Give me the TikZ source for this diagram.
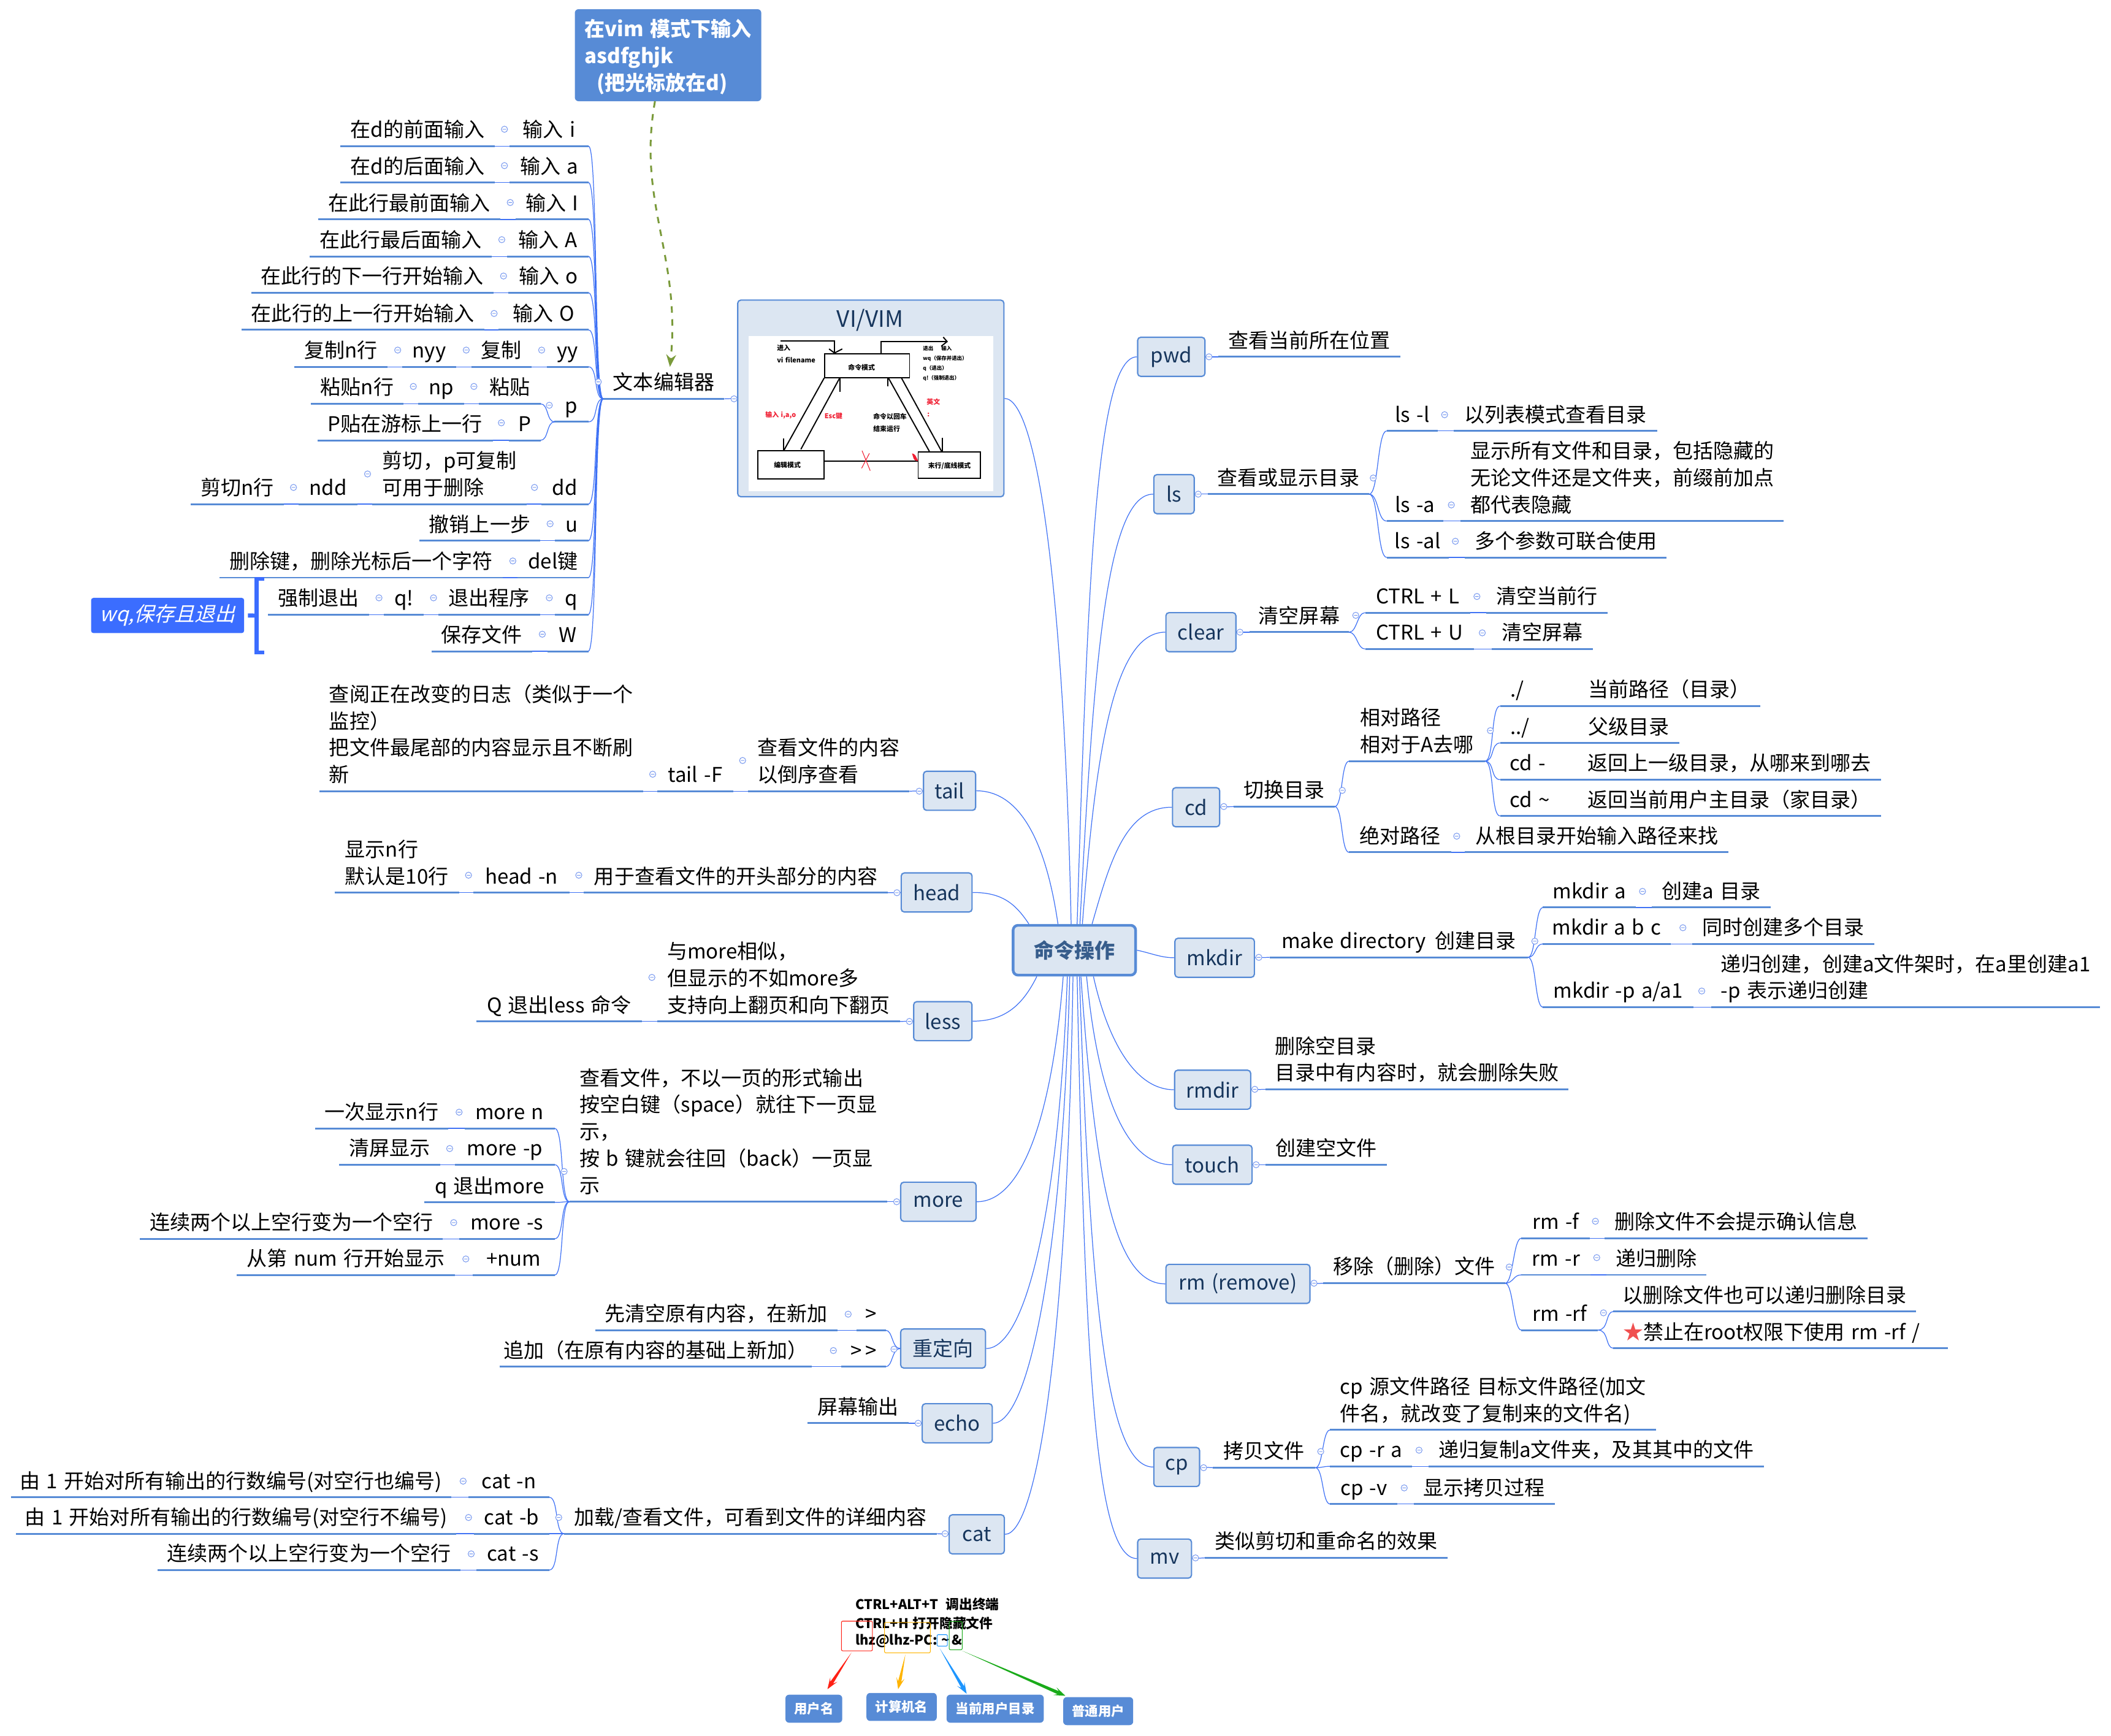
\documentclass[tikz,border=0pt]{standalone}
\usepackage{fontspec}
\setmainfont[WordSpace=1.4]{Noto Sans CJK SC}
\newfontfamily\slantfont[FakeSlant=0.25]{Noto Sans CJK SC}
\usetikzlibrary{calc,arrows.meta}

\newcommand{\gridu}{0.02196cm}
\definecolor{barblue}{HTML}{578BD6}
\definecolor{twigblue}{HTML}{3F72F5}
\definecolor{boxfill}{HTML}{DCE6F2}
\definecolor{boxtext}{HTML}{17365D}
\definecolor{hubtext}{HTML}{375D8C}
\definecolor{foldblue}{HTML}{7C9CF0}
\definecolor{noteblue}{HTML}{3B6DFF}
\definecolor{dashgreen}{HTML}{7A9A3A}
\definecolor{starred}{HTML}{F05050}
\definecolor{vimred}{HTML}{F01E32}
\definecolor{arrowred}{HTML}{FF2014}
\definecolor{arroworange}{HTML}{FFB400}
\definecolor{arrowblue}{HTML}{1E96FF}
\definecolor{arrowgreen}{HTML}{1AAB1A}

\tikzset{
	basefont/.style={font=\fontsize{9.4}{12.45}\selectfont},
	bar/.style={draw=barblue, line width=0.85pt},
	twig/.style={draw=twigblue, line width=0.35pt},
	limb/.style={draw=twigblue, line width=0.35pt},
	fold/.style={draw=foldblue, line width=0.3pt},
	leaftext/.style={basefont, anchor=south, inner sep=0pt, align=left},
	topic/.style={basefont, draw=barblue, fill=boxfill, text=boxtext, line width=0.6pt, rounded corners=0.05cm, minimum height=29*\gridu, inner sep=0pt},
	hub/.style={font=\fontsize{9.4}{12}\selectfont\bfseries, draw=barblue, fill=boxfill, text=hubtext, line width=1.25pt, rounded corners=0.08cm, minimum width=91*\gridu, minimum height=37*\gridu},
	tagbox/.style={font=\fontsize{6.1}{8}\selectfont\bfseries, fill=barblue, text=white, rounded corners=0.06cm, minimum height=20.8*\gridu, inner sep=0pt},
	shotline/.style={draw=black, line width=0.55pt},
	shottext/.style={anchor=west, inner sep=0pt, font=\fontsize{3.1}{4}\selectfont\bfseries},
	shotsmall/.style={anchor=west, inner sep=0pt, font=\fontsize{2.4}{3}\selectfont\bfseries},
	termtext/.style={anchor=west, inner sep=0pt, font=\fontsize{6.2}{8}\selectfont\bfseries},
	termbox/.style={line width=0.3pt, rounded corners=0.02cm},
}

% underlined entry with two end points name-l and name-r
\newcommand{\leaf}[5]{
	\coordinate (#1-l) at (#2,#4);
	\coordinate (#1-r) at (#3,#4);
	\draw[bar] (#1-l) -- (#1-r) node[midway,leaftext] (#1) {#5\strut};
}
\newcommand{\topicbox}[5]{\node[topic, minimum width=#4*\gridu] (#1) at (#2,#3) {#5};}
% tapered pointer
\newcommand{\taper}[3]{
	\fill[#1] (#2) -- ($(#3)!0.13cm!12:(#2)$) -- ($(#3)!0.2cm!20:(#2)$) -- (#3)
		-- ($(#3)!0.2cm!-20:(#2)$) -- ($(#3)!0.13cm!-12:(#2)$) -- cycle;
}

\begin{document}
\begin{tikzpicture}[x=\gridu, y=-\gridu]
	\useasboundingbox (0,0) rectangle (1568,1289);

	% centre and first level
	\node[hub] (hub) at (798,705.7) {命令操作};
	\topicbox{pwd}{870}{265}{50}{pwd}
	\topicbox{ls}{872}{367}{30}{ls}
	\topicbox{clear}{892}{469.5}{52}{clear}
	\topicbox{cd}{888.4}{599.5}{35}{cd}
	\topicbox{mkdir}{902.2}{711.3}{59}{mkdir}
	\topicbox{rmdir}{900.7}{809.3}{56.5}{rmdir}
	\topicbox{touch}{900.5}{865}{59}{touch}
	\topicbox{rm}{919.5}{953.5}{107}{rm (remove)}
	\topicbox{cp}{874}{1089.5}{34}{cp}
	\topicbox{mv}{865}{1157.5}{40}{mv}
	\topicbox{tail}{705.3}{587.3}{38.7}{tail}
	\topicbox{head}{695.7}{662.8}{52.6}{head}
	\topicbox{less}{700.3}{758.4}{43.3}{less}
	\topicbox{more}{697}{892.5}{56}{more}
	\topicbox{redirect}{700.5}{1001.5}{63}{重定向}
	\topicbox{echo}{711}{1057}{52}{echo}
	\topicbox{cat}{725.5}{1139.5}{41}{cat}

	% VI/VIM card with the mode diagram
	\node[topic, minimum width=197.7*\gridu, minimum height=146*\gridu] (vim) at (646.8,295.9) {};
	\node[font=\fontsize{10.5}{12}\selectfont, text=boxtext, inner sep=0pt] (vimtitle) at (646.3,238) {VI/VIM};
	\begin{scope}[shift={(537.3,214)}, x=0.003333cm, y=-0.003333cm]
		\fill[white] (123,235) rectangle (1323,995);
		\draw[shotline] (498,322) rectangle (913,438);
		\draw[shotline] (168,796) rectangle (494,934);
		\draw[shotline] (955,803) rectangle (1260,932);
		\draw[shotline] (280,259) -- (545,259) -- (545,318);
		\draw[shotline] (518,298) -- (545,318) -- (583,298);
		\draw[shotline] (772,320) -- (772,262) -- (1095,262);
		\draw[shotline] (1078,240) -- (1097,262) -- (1068,285);
		\draw[shotline] (494,441) -- (298,793);
		\draw[shotline] (294,737) -- (294,793);
		\draw[shotline] (380,790) -- (570,441);
		\draw[shotline] (573,441) -- (573,508);
		\draw[shotline] (808,438) -- (1010,800);
		\draw[shotline] (806,438) -- (806,480);
		\draw[shotline] (873,440) -- (1070,800);
		\draw[shotline] (1074,733) -- (1074,800);
		\draw[shotline] (494,847) -- (955,847);
		\draw[vimred, line width=0.3pt] (680,797) -- (720,895) (716,810) -- (678,883);
		\fill[vimred] (925,810) .. controls (940,815) .. (955,848) .. controls (935,845) .. cycle;
		\node[shottext] (enterword) at (261,292) {进入};
		\node[shottext] (enterfile) at (261,353) {vi filename};
		\node[shottext] (cmdmode) at (610,388) {命令模式};
		\node[shottext] (editmode) at (246,868) {编辑模式};
		\node[shottext] (lastmode) at (1002,872) {末行/底线模式};
		\node[shotsmall] (quitword) at (977,296) {退出\hspace{0.13cm}输入};
		\node[shotsmall] (quitwq) at (977,345) {wq（保存并退出）};
		\node[shotsmall] (quitq) at (977,393) {q（退出）};
		\node[shotsmall] (quitforce) at (977,441) {q!（强制退出）};
		\node[shottext, text=vimred] (typeins) at (204,622) {输入 i,a,o};
		\node[shottext, text=vimred] (esckey) at (494,627) {Esc键};
		\node[shottext] (enterrun) at (733,630) {命令以回车};
		\node[shottext] (enterend) at (733,691) {结束运行};
		\node[shottext, text=vimred] (enword) at (995,557) {英文};
		\node[shottext, text=vimred] (colon) at (998,622) {:};
	\end{scope}

	% hub to first level
	\foreach \t/\a/\ox/\oy/\ix in {pwd/84/8/-260/-30, ls/78/10/-190/-35, clear/73/10/-130/-38, cd/56/13/-45/-35,
		rmdir/306/10/45/-30, touch/295/8/85/-35, rm/284.5/10/140/-40, cp/281.7/8/240/-35, mv/276/6/300/-30}
		\draw[limb] (hub.\a) .. controls +(\ox,\oy) and +(\ix,0) .. (\t.west);
	\foreach \t/\a/\ox/\oy/\ix in {head/150/-10/-15/22, tail/122/-8/-55/35, vim/97/-5/-240/25,
		less/215/-10/20/25, more/247.5/-8/100/35, redirect/255.5/-6/170/30, echo/260.3/-5/200/28, cat/267/-4/260/25}
		\draw[limb] (hub.\a) .. controls +(\ox,\oy) and +(\ix,0) .. (\t.east);
	\draw[limb] (hub.east) .. controls +(10,2) and +(-10,0) .. (mkdir.west);

	% text editor branch
	\leaf{editor}{448}{538}{296.2}{文本编辑器}
	\leaf{dfront}{252.8}{367.5}{108.6}{在d的前面输入}
	\leaf{inserti}{378.5}{437.2}{108.6}{输入 i}
	\leaf{dback}{252.8}{367.5}{135.6}{在d的后面输入}
	\leaf{inserta}{378.5}{437.2}{135.6}{输入 a}
	\leaf{linefront}{236.5}{371.8}{163}{在此行最前面输入}
	\leaf{insertI}{382.9}{437.2}{163}{输入 I}
	\leaf{lineback}{230}{365.4}{190.5}{在此行最后面输入}
	\leaf{insertA}{376.5}{437.2}{190.5}{输入 A}
	\leaf{nextline}{186.5}{366.6}{217.5}{在此行的下一行开始输入}
	\leaf{inserto}{377.6}{437.2}{217.5}{输入 o}
	\leaf{prevline}{179.3}{359.6}{245}{在此行的上一行开始输入}
	\leaf{insertO}{370.4}{437.2}{245}{输入 O}
	\leaf{copyn}{218.8}{287.9}{272.4}{复制n行}
	\leaf{nyy}{298.6}{339}{272.4}{nyy}
	\leaf{copyword}{350}{395}{272.4}{复制}
	\leaf{yy}{406}{437.2}{272.4}{yy}
	\leaf{pasten}{230.7}{299.8}{299.9}{粘贴n行}
	\leaf{np}{310.8}{344.8}{299.9}{np}
	\leaf{pasteword}{355.9}{401.5}{299.9}{粘贴}
	\leaf{plower}{411.9}{437.2}{313.3}{p}
	\leaf{pasteup}{236}{366}{327}{P贴在游标上一行}
	\leaf{pupper}{378}{401.5}{327}{P}
	\leaf{cutn}{141.7}{210.7}{374.4}{剪切n行}
	\leaf{ndd}{222}{265.6}{374.4}{ndd}
	\leaf{cutnote}{276.6}{391.3}{374.4}{剪切，p可复制\\可用于删除}
	\leaf{dd}{402.3}{437}{374.4}{dd}
	\leaf{undo}{311.4}{401.3}{401.6}{撤销上一步}
	\leaf{undou}{412.2}{437}{401.6}{u}
	\leaf{delnote}{163}{373.5}{429}{删除键，删除光标后一个字符}
	\leaf{delkey}{384.5}{437}{429}{del键}
	\leaf{forcequit}{199.2}{274.2}{456.4}{强制退出}
	\leaf{qbang}{285.2}{314.8}{456.4}{q!}
	\leaf{quitprog}{325.7}{401}{456.4}{退出程序}
	\leaf{qkey}{412}{437}{456.4}{q}
	\leaf{savefile}{320.5}{395.3}{483.7}{保存文件}
	\leaf{wkey}{406.5}{437}{483.7}{W}
	\foreach \k in {inserti,inserta,insertI,insertA,inserto,insertO,yy,plower,dd,undou,delkey,qkey,wkey}
		\draw[twig] (editor-l) .. controls +(-7,0) and +(7,0) .. (\k-r);
	\foreach \k in {pasteword,pupper}
		\draw[twig] (plower-l) .. controls +(-6,0) and +(6,0) .. (\k-r);
	\foreach \a/\b in {dfront/inserti,dback/inserta,linefront/insertI,lineback/insertA,nextline/inserto,prevline/insertO,
		copyn/nyy,nyy/copyword,copyword/yy,pasten/np,np/pasteword,pasteup/pupper,cutn/ndd,ndd/cutnote,cutnote/dd,
		undo/undou,delnote/delkey,forcequit/qbang,qbang/quitprog,quitprog/qkey,savefile/wkey}
		\draw[twig] (\a-r) -- (\b-l);
	\draw[twig] (editor-r) -- (vim.west);

	% note on the dashed arrow
	\node[font=\fontsize{9.4}{12.45}\selectfont\bfseries, fill=barblue, text=white, rounded corners=0.06cm, align=left, text width=124*\gridu, inner xsep=7.25*\gridu, inner ysep=0pt, minimum height=68.3*\gridu] (hint) at (496.2,41)
		{\rule{0pt}{0.34cm}\mbox{在vim 模式下输入}\\asdfghjk\\\hspace*{0.2cm}(把光标放在d)};
	\coordinate (hintfoot) at (486.5,75.2);
	\coordinate (editorhead) at (497.6,272.5);
	\draw[dashgreen, line width=0.85pt, dashed, -{Stealth[length=0.2cm,width=0.16cm]}] (hintfoot) .. controls (473,150) and (506,190) .. (editorhead);

	% wq note with its bracket
	\node[font=\fontsize{9.4}{12}\selectfont\slantfont, fill=noteblue, text=white, rounded corners=0.04cm, minimum width=113.7*\gridu, minimum height=26.2*\gridu, inner sep=0pt] (wqnote) at (124.5,457.1) {wq,保存且退出};
	\coordinate (bracketmid) at (190.6,457.2);
	\draw[noteblue, line width=1.9pt] (196.3,429.9) -- (190.6,429.9) -- (190.6,484.5) -- (196.3,484.5);
	\draw[noteblue, line width=1.9pt] ($(wqnote.east)+(2.5,0)$) -- (bracketmid);

	% tail
	\leaf{tailnote}{237.3}{477.5}{587.6}{查阅正在改变的日志（类似于一个\\监控）\\把文件最尾部的内容显示且不断刷\\新}
	\leaf{tailf}{488.3}{544.5}{587.6}{tail -F}
	\leaf{tailtext}{555.4}{675.5}{587.6}{查看文件的内容\\以倒序查看}
	% head
	\leaf{headnote}{248.5}{341}{663}{显示n行\\默认是10行}
	\leaf{headn}{351.6}{423.2}{663}{head -n}
	\leaf{headtext}{433.7}{659.5}{663}{用于查看文件的开头部分的内容}
	% less
	\leaf{lessquit}{353.9}{476.8}{758.6}{Q 退出less 命令}
	\leaf{lesstext}{488}{668.5}{758.6}{与more相似，\\但显示的不如more多\\支持向上翻页和向下翻页}
	% more
	\leaf{moretext}{423}{659}{892.5}{查看文件，不以一页的形式输出\\按空白键（space）就往下一页显\\示，\\按 b 键就会往回（back）一页显\\示}
	\leaf{oncen}{234}{333}{838}{一次显示n行}
	\leaf{moren}{345}{412}{838}{more n}
	\leaf{clearshow}{252}{327}{865}{清屏显示}
	\leaf{morep}{338}{412}{865}{more -p}
	\leaf{quitmore}{315}{412}{893}{q 退出more}
	\leaf{squeeze}{104}{329}{920}{连续两个以上空行变为一个空行}
	\leaf{mores}{341}{412}{920}{more -s}
	\leaf{startnum}{176}{338}{947}{从第 num 行开始显示}
	\leaf{plusnum}{351}{412}{947}{+num}
	\foreach \k in {moren,morep,quitmore,mores,plusnum}
		\draw[twig] (moretext-l) .. controls +(-7,0) and +(7,0) .. (\k-r);
	% redirect
	\leaf{overwrite}{442}{622}{988}{先清空原有内容，在新加}
	\leaf{gtone}{636}{658}{988}{>}
	\leaf{appendto}{371}{603}{1015}{追加（在原有内容的基础上新加）}
	\leaf{gttwo}{625}{658}{1015}{>\,>}
	\foreach \k in {gtone,gttwo}
		\draw[twig] (redirect.west) .. controls +(-6,0) and +(5,0) .. (\k-r);
	% echo
	\leaf{echotext}{600}{675}{1057}{屏幕输出}
	% cat
	\leaf{cattext}{419}{696}{1139}{加载/查看文件，可看到文件的详细内容}
	\leaf{numall}{8}{335}{1112}{由 1 开始对所有输出的行数编号(对空行也编号)}
	\leaf{catn}{348}{408}{1112}{cat -n}
	\leaf{numtext}{12}{339}{1139}{由 1 开始对所有输出的行数编号(对空行不编号)}
	\leaf{catb}{352}{408}{1139}{cat -b}
	\leaf{catsqueeze}{117}{342}{1166}{连续两个以上空行变为一个空行}
	\leaf{cats}{354}{408}{1166}{cat -s}
	\foreach \k in {catn,catb,cats}
		\draw[twig] (cattext-l) .. controls +(-7,0) and +(7,0) .. (\k-r);
	\foreach \a/\b in {tailnote/tailf,tailf/tailtext,headnote/headn,headn/headtext,lessquit/lesstext,oncen/moren,clearshow/morep,
		squeeze/mores,startnum/plusnum,overwrite/gtone,appendto/gttwo,numall/catn,numtext/catb,catsqueeze/cats}
		\draw[twig] (\a-r) -- (\b-l);
	\foreach \a/\b in {tailtext/tail,headtext/head,lesstext/less,moretext/more,echotext/echo,cattext/cat}
		\draw[twig] (\a-r) -- (\b.west);

	% pwd
	\leaf{pwdtext}{905}{1040}{265}{查看当前所在位置}
	% ls
	\leaf{lstext}{897}{1017}{367}{查看或显示目录}
	\leaf{lsl}{1030}{1068}{320}{ls -l}
	\leaf{lsltext}{1080}{1231}{320}{以列表模式查看目录}
	\leaf{lsa}{1030}{1072}{387}{ls -a}
	\leaf{lsatext}{1085}{1325}{387}{显示所有文件和目录，包括隐藏的\\无论文件还是文件夹，前缀前加点\\都代表隐藏}
	\leaf{lsal}{1030}{1076}{414}{ls -al}
	\leaf{lsaltext}{1088}{1238}{414}{多个参数可联合使用}
	\foreach \k in {lsl,lsa,lsal}
		\draw[twig] (lstext-r) .. controls +(7,0) and +(-7,0) .. (\k-l);
	% clear
	\leaf{cleartext}{928}{1002}{469.5}{清空屏幕}
	\leaf{ctrll}{1014}{1092}{455}{CTRL + L}
	\leaf{ctrlltext}{1104}{1194}{455}{清空当前行}
	\leaf{ctrlu}{1014}{1095}{482}{CTRL + U}
	\leaf{ctrlutext}{1108}{1183}{482}{清空屏幕}
	\foreach \k in {ctrll,ctrlu}
		\draw[twig] (cleartext-r) .. controls +(6,0) and +(-6,0) .. (\k-l);
	% cd
	\leaf{cdtext}{916.4}{991.4}{599}{切换目录}
	\leaf{relative}{1002}{1103}{565.3}{相对路径\\相对于A去哪}
	\leaf{absolute}{1002}{1078}{633}{绝对路径}
	\leaf{abstext}{1088}{1284}{633}{从根目录开始输入路径来找}
	\leaf{cdhere}{1114.2}{1307.7}{524.3}{\makebox[1.27cm][l]{./}当前路径（目录）}
	\leaf{cdup}{1114.2}{1247.4}{551.8}{\makebox[1.27cm][l]{../}父级目录}
	\leaf{cdback}{1114.2}{1397}{579}{\makebox[1.27cm][l]{cd -}返回上一级目录，从哪来到哪去}
	\leaf{cdhome}{1114.2}{1397}{606}{\makebox[1.27cm][l]{cd \textasciitilde}返回当前用户主目录（家目录）}
	\foreach \k in {relative,absolute}
		\draw[twig] (cdtext-r) .. controls +(6,0) and +(-6,0) .. (\k-l);
	\foreach \k in {cdhere,cdup,cdback,cdhome}
		\draw[twig] (relative-r) .. controls +(7,0) and +(-7,0) .. (\k-l);
	% mkdir
	\leaf{mkdirtext}{943}{1135}{711}{make directory\hspace{0.15cm}创建目录}
	\leaf{mka}{1146}{1215}{674}{mkdir a}
	\leaf{mkatext}{1227}{1315}{674}{创建a 目录}
	\leaf{mkabc}{1146}{1241}{701}{mkdir a b c}
	\leaf{mkabctext}{1257}{1392}{701}{同时创建多个目录}
	\leaf{mkp}{1146}{1258}{748}{mkdir -p a/a1}
	\leaf{mkptext}{1271}{1560}{748}{递归创建，创建a文件架时，在a里创建a1\\-p 表示递归创建}
	\foreach \k in {mka,mkabc,mkp}
		\draw[twig] (mkdirtext-r) .. controls +(6,0) and +(-6,0) .. (\k-l);
	% rmdir, touch
	\leaf{rmdirtext}{940}{1165}{809}{删除空目录\\目录中有内容时，就会删除失败}
	\leaf{touchtext}{940}{1030}{865}{创建空文件}
	% rm
	\leaf{rmtext}{983}{1118}{953}{移除（删除）文件}
	\leaf{rmf}{1130}{1181}{919.6}{rm -f}
	\leaf{rmftext}{1192}{1387}{919.6}{删除文件不会提示确认信息}
	\leaf{rmr}{1130}{1181.5}{946.8}{rm -r}
	\leaf{rmrtext}{1193}{1267.6}{946.8}{递归删除}
	\leaf{rmrf}{1130}{1187}{987.8}{rm -rf}
	\leaf{rmrfnote}{1198.4}{1423}{974}{以删除文件也可以递归删除目录}
	\leaf{rmrfwarn}{1198.4}{1447}{1001.3}{{\color{starred}★}禁止在root权限下使用 rm -rf /\hspace*{0.3cm}}
	\foreach \k in {rmf,rmr,rmrf}
		\draw[twig] (rmtext-r) .. controls +(6,0) and +(-6,0) .. (\k-l);
	\foreach \k in {rmrfnote,rmrfwarn}
		\draw[twig] (rmrf-r) .. controls +(8,0) and +(-6,0) .. (\k-l);
	% cp, mv
	\leaf{cptext}{901}{977}{1090}{拷贝文件}
	\leaf{cpusage}{988}{1230}{1062}{cp 源文件路径 目标文件路径(加文\\件名，就改变了复制来的文件名)}
	\leaf{cpr}{988}{1049}{1089}{cp -r a}
	\leaf{cprtext}{1061}{1310}{1089}{递归复制a文件夹，及其其中的文件}
	\leaf{cpv}{988}{1038}{1117}{cp -v}
	\leaf{cpvtext}{1050}{1155}{1117}{显示拷贝过程}
	\foreach \k in {cpusage,cpr,cpv}
		\draw[twig] (cptext-r) .. controls +(6,0) and +(-6,0) .. (\k-l);
	\leaf{mvtext}{895}{1075}{1157}{类似剪切和重命名的效果}

	\foreach \a/\b in {lsl/lsltext,lsa/lsatext,lsal/lsaltext,ctrll/ctrlltext,ctrlu/ctrlutext,absolute/abstext,mka/mkatext,
		mkabc/mkabctext,mkp/mkptext,rmf/rmftext,rmr/rmrtext,cpr/cprtext,cpv/cpvtext}
		\draw[twig] (\a-r) -- (\b-l);
	\foreach \a/\b in {pwd/pwdtext,ls/lstext,clear/cleartext,cd/cdtext,mkdir/mkdirtext,rmdir/rmdirtext,touch/touchtext,rm/rmtext,cp/cptext,mv/mvtext}
		\draw[twig] (\a.east) -- (\b-l);

	% fold marks
	\foreach \x/\y in {374.7/96,374.7/123,379/150.4,372.7/178,374/205,367/232.8,295.4/260,346.3/260,402.3/260,307/287,352/287,
		408/301,372.4/314,218/362,273/352,397/362,408.6/389,380.9/416.6,281.5/444,322/444,408/444,402.8/471,444.4/283.6,545.2/296.2,
		682.8/587.6,551.6/564.8,484.8/575,666.2/663,429.9/650,348/650,675.5/758.6,484.2/725.9,
		666/892.5,419/870,341/826,334/853,337/908,346/935,664/1002,630/976,619/1003,682/1057,
		702/1139,415/1127,344/1100,348/1127,350/1154,
		898/265,890/367,1020/355,1073/308,1078/375,1081/402,921/469.5,1007/457,1097/443,1101/470,
		909/599,997/587,1107/542.6,1082/621,935/711,1140/699,1220/662,1250/689,1264/736,932/809,933/865,
		976/953,1121/941,1185/907,1186/934,1191/975,894/1090,981/1078,1054/1077,1043/1105,888/1157}
		\draw[fold, fill=white] (\x,\y) circle (2.3) ++(-1.3,0) -- ++(2.6,0);

	% terminal prompt
	\node[termtext] (termopen) at (635,1191.6) {CTRL+ALT+T\hspace{0.12cm}调出终端};
	\node[termtext] (termhide) at (635,1205.5) {CTRL+H 打开隐藏文件};
	\node[termtext] (prompt) at (635,1218.6) {lhz@lhz-PC: \textasciitilde\,\&};
	\draw[termbox, arrowred] (625,1204) rectangle (648,1226);
	\draw[termbox, arroworange] (657,1205) rectangle (691,1227.5);
	\draw[termbox, arrowblue] (696,1214) rectangle (703.7,1222.5);
	\draw[termbox, arrowgreen] (705,1204.3) rectangle (714.7,1225.2);
	\node[tagbox, minimum width=42.2*\gridu] (username) at (604.5,1269) {用户名};
	\node[tagbox, minimum width=52.2*\gridu] (hostname) at (669.7,1267.7) {计算机名};
	\node[tagbox, minimum width=72.2*\gridu] (homedir) at (739.2,1269) {当前用户目录};
	\node[tagbox, minimum width=52*\gridu] (plainuser) at (815.7,1270.8) {普通用户};
	\coordinate (redtail) at (632.4,1227.4);
	\coordinate (redtip) at (614.6,1254.5);
	\coordinate (orangetail) at (672.5,1228.7);
	\coordinate (orangetip) at (667.1,1254.5);
	\coordinate (bluetail) at (698,1224.2);
	\coordinate (bluetip) at (718,1257.9);
	\coordinate (greentail) at (714.7,1226);
	\coordinate (greentip) at (791.3,1259.4);
	\taper{arrowred}{redtail}{redtip}
	\taper{arroworange}{orangetail}{orangetip}
	\taper{arrowblue}{bluetail}{bluetip}
	\taper{arrowgreen}{greentail}{greentip}
\end{tikzpicture}
\end{document}
